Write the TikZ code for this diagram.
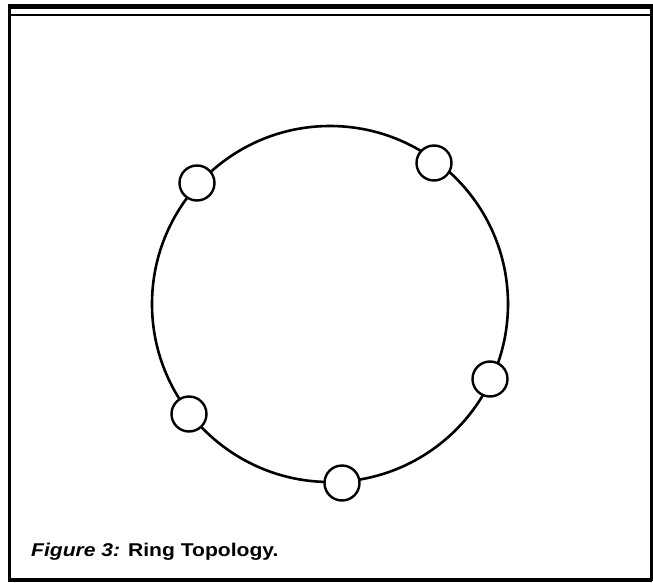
\documentclass[tikz,border=0pt]{standalone}
\usepackage{fontspec}
\setmainfont{Liberation Sans}
\usetikzlibrary{positioning}
\begin{document}
\begin{tikzpicture}[x=1pt,y=-1pt,
  ring/.style={line width=2.6pt},
  station/.style={circle,draw,line width=2.4pt,fill=white,minimum size=35pt,inner sep=0pt},
  frameline/.style={line width=3pt}]
\useasboundingbox (0,0) rectangle (653,583);
% frame
\draw[line width=5pt] (8,6.5) -- (652,6.5);
\draw[line width=2.5pt] (11,15) -- (650,15);
\draw[frameline] (9.5,4) -- (9.5,581);
\draw[frameline] (651,4) -- (651,581);
\draw[line width=4pt] (8,580) -- (652,580);
% ring
\coordinate (c) at (330,304);
\draw[ring] (c) circle[radius=178pt];
% stations
\node[station] (s1) at (197,183) {};
\node[station] (s2) at (434,163) {};
\node[station] (s3) at (490,379) {};
\node[station] (s4) at (342,483) {};
\node[station] (s5) at (189,414) {};
% caption
\node[anchor=base west,inner sep=0pt] (cap) at (31,556)
  {\scalebox{1.14}[1]{\fontsize{18.5pt}{20pt}\selectfont\bfseries\itshape Figure 3:\upshape{} Ring Topology.}};
\end{tikzpicture}
\end{document}
